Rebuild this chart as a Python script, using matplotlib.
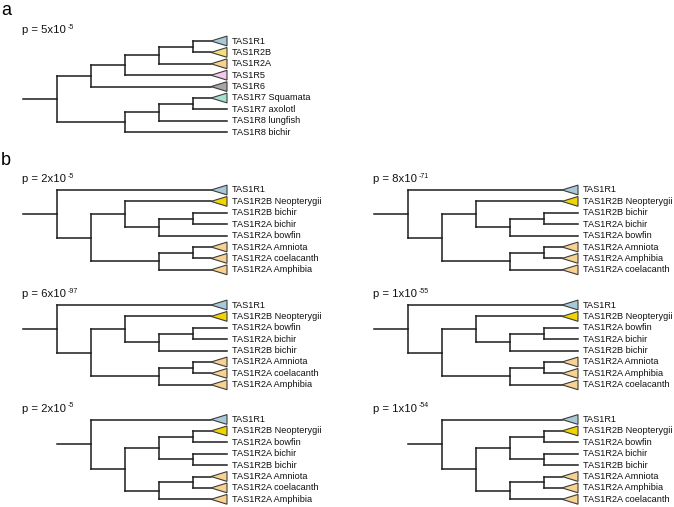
import matplotlib
matplotlib.use("Agg")
import matplotlib.pyplot as plt
from matplotlib.patches import Polygon

plt.rcParams["font.family"] = ["Liberation Sans", "DejaVu Sans"]

# ---- data -------------------------------------------------------------
R2A = "TAS1R2A"
tree_a = (
    (((("TAS1R1", "TAS1R2B"), "TAS1R2A"), "TAS1R5"), "TAS1R6"),
    ((("TAS1R7 Squamata", "TAS1R7 axolotl"), "TAS1R8 lungfish"), "TAS1R8 bichir"),
)
p_a = ("5", "-5")

amn_coel_amph = (("TAS1R2A Amniota", "TAS1R2A coelacanth"), "TAS1R2A Amphibia")
amn_amph_coel = (("TAS1R2A Amniota", "TAS1R2A Amphibia"), "TAS1R2A coelacanth")

trees_b = [
    ("TAS1R1", (("TAS1R2B Neopterygii", (("TAS1R2B bichir", "TAS1R2A bichir"), "TAS1R2A bowfin")), amn_coel_amph)),
    ("TAS1R1", (("TAS1R2B Neopterygii", (("TAS1R2B bichir", "TAS1R2A bichir"), "TAS1R2A bowfin")), amn_amph_coel)),
    ("TAS1R1", (("TAS1R2B Neopterygii", (("TAS1R2A bowfin", "TAS1R2A bichir"), "TAS1R2B bichir")), amn_coel_amph)),
    ("TAS1R1", (("TAS1R2B Neopterygii", (("TAS1R2A bowfin", "TAS1R2A bichir"), "TAS1R2B bichir")), amn_amph_coel)),
    ("TAS1R1", ((("TAS1R2B Neopterygii", "TAS1R2A bowfin"), ("TAS1R2A bichir", "TAS1R2B bichir")), amn_coel_amph)),
    ("TAS1R1", ((("TAS1R2B Neopterygii", "TAS1R2A bowfin"), ("TAS1R2A bichir", "TAS1R2B bichir")), amn_amph_coel)),
]
p_b = [("2", "-5"), ("8", "-71"), ("6", "-97"), ("1", "-55"), ("2", "-5"), ("1", "-54")]

# collapsed clades drawn as triangles
clade_colors = {
    "TAS1R1": "#a9c9d8",
    "TAS1R2B": "#f4df7c",
    "TAS1R2A": "#f7d291",
    "TAS1R5": "#f2c9e6",
    "TAS1R6": "#a7a7a7",
    "TAS1R7 Squamata": "#a7e0d2",
    "TAS1R2B Neopterygii": "#f1d500",
    "TAS1R2A Amniota": "#f7d291",
    "TAS1R2A coelacanth": "#f7d291",
    "TAS1R2A Amphibia": "#f7d291",
}

# ---- layout -----------------------------------------------------------
STEP = 34
DY = 11.4
TRI_W = 16
TRI_H = 4.9
LINE = dict(color="#1c1c1c", lw=1.1, solid_capstyle="projecting")


def draw_tree(ax, tree, tip_x, y0):
    tips = []

    def walk(node):
        if isinstance(node, str):
            y = y0 + DY * len(tips)
            tips.append(node)
            if node in clade_colors:
                ax.add_patch(Polygon([(tip_x - TRI_W, y), (tip_x, y - TRI_H), (tip_x, y + TRI_H)],
                                     closed=True, facecolor=clade_colors[node],
                                     edgecolor="#3c3c3c", lw=0.8, zorder=3))
                end = tip_x - TRI_W
            else:
                end = tip_x
            ax.text(tip_x + 5, y, node, fontsize=6.6, va="center", ha="left", color="#111111")
            return end, y, 0
        kids = [walk(c) for c in node]
        h = max(k[2] for k in kids) + 1
        x = tip_x - STEP * h
        ys = [k[1] for k in kids]
        ax.plot([x, x], [ys[0], ys[-1]], **LINE)
        for kx, ky, _ in kids:
            ax.plot([x, kx], [ky, ky], **LINE)
        return x, (ys[0] + ys[-1]) / 2, h

    x, y, _ = walk(tree)
    ax.plot([x - STEP, x], [y, y], **LINE)


def p_label(ax, x, y, mant, exp):
    base = ax.text(x, y, f"p = {mant}x10", fontsize=8.2, va="baseline", ha="left", color="#111111")
    ax.annotate(exp, xy=(1, 1), xycoords=base, xytext=(1.2, 1.0), textcoords="offset points",
                fontsize=5.0, va="top", ha="left", color="#111111")


fig = plt.figure(figsize=(6.74, 5.07), dpi=100)
ax = fig.add_axes([0, 0, 1, 1])
ax.set_xlim(0, 674)
ax.set_ylim(507, 0)
ax.axis("off")

ax.text(1, 15, "a", fontsize=13, va="baseline", ha="left")
ax.text(1, 165, "b", fontsize=13, va="baseline", ha="left")

# panel a
p_label(ax, 22, 33, *p_a)
draw_tree(ax, tree_a, 227, 41)

# panel b, 3 rows x 2 columns
col_x = [227, 578]
p_x = [22, 373]
row_y = [190, 305, 419.5]
for i, (tree, (mant, exp)) in enumerate(zip(trees_b, p_b)):
    r, c = divmod(i, 2)
    p_label(ax, p_x[c], row_y[r] - 8, mant, exp)
    draw_tree(ax, tree, col_x[c], row_y[r])

fig.savefig("out.png", dpi=100)
